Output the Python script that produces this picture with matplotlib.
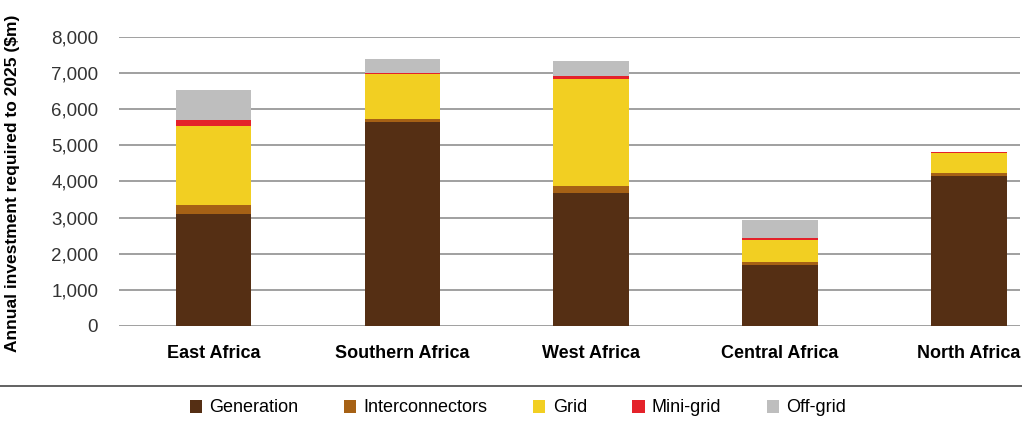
import matplotlib
matplotlib.use("Agg")
import matplotlib.pyplot as plt
from matplotlib.ticker import FuncFormatter
from matplotlib.lines import Line2D
import numpy as np

regions = ["East Africa", "Southern Africa", "West Africa", "Central Africa", "North Africa"]
generation = [3110, 5635, 3690, 1685, 4145]
interconnectors = [245, 90, 175, 90, 85]
grid = [2170, 1235, 2965, 610, 560]
mini_grid = [160, 45, 85, 45, 10]
off_grid = [835, 370, 405, 490, 0]

series = [
    ("Generation", generation, "#552f14"),
    ("Interconnectors", interconnectors, "#a66115"),
    ("Grid", grid, "#f2cf22"),
    ("Mini-grid", mini_grid, "#e4222a"),
    ("Off-grid", off_grid, "#bebebe"),
]

plt.rcParams["font.family"] = ["Liberation Sans", "DejaVu Sans"]

fig = plt.figure(figsize=(10.22, 4.25), dpi=100)
ax = fig.add_axes([119 / 1022, 1 - 326 / 425, (1020 - 119) / 1022, (326 - 36.7) / 425])

x = np.arange(len(regions))
bottom = np.zeros(len(regions))
for name, vals, color in series:
    ax.bar(x, vals, width=0.4, bottom=bottom, color=color, label=name, zorder=3)
    bottom += np.array(vals)

ax.set_ylim(0, 8000)
ax.set_xlim(-0.5, 4.27)
ax.set_yticks(range(0, 8001, 1000))
ax.yaxis.set_major_formatter(FuncFormatter(lambda v, p: f"{int(v):,}"))
ax.grid(axis="y", color="#a0a0a0", linewidth=1.4, zorder=0)
for s in ax.spines.values():
    s.set_visible(False)
ax.tick_params(axis="both", length=0)
ax.tick_params(axis="y", labelsize=13.5, colors="#333333", pad=15)
ax.set_xticks(x)
ax.set_xticklabels(regions, fontsize=13, fontweight="bold")
ax.tick_params(axis="x", pad=14)
ax.set_ylabel("Annual investment required to 2025 ($m)", fontsize=12.5, fontweight="bold")
ax.yaxis.set_label_coords(-0.11, 0.494)

fig.add_artist(Line2D([0, 1], [1 - 386 / 425] * 2, color="#555555", linewidth=1.3))

handles, labels = ax.get_legend_handles_labels()
fig.legend(handles, labels, loc="center", bbox_to_anchor=(518 / 1022, 1 - 408 / 425),
           ncol=5, frameon=False, fontsize=13, handlelength=0.7, handleheight=0.7,
           handletextpad=0.4, columnspacing=2.5)

fig.savefig("out.png", dpi=100)
